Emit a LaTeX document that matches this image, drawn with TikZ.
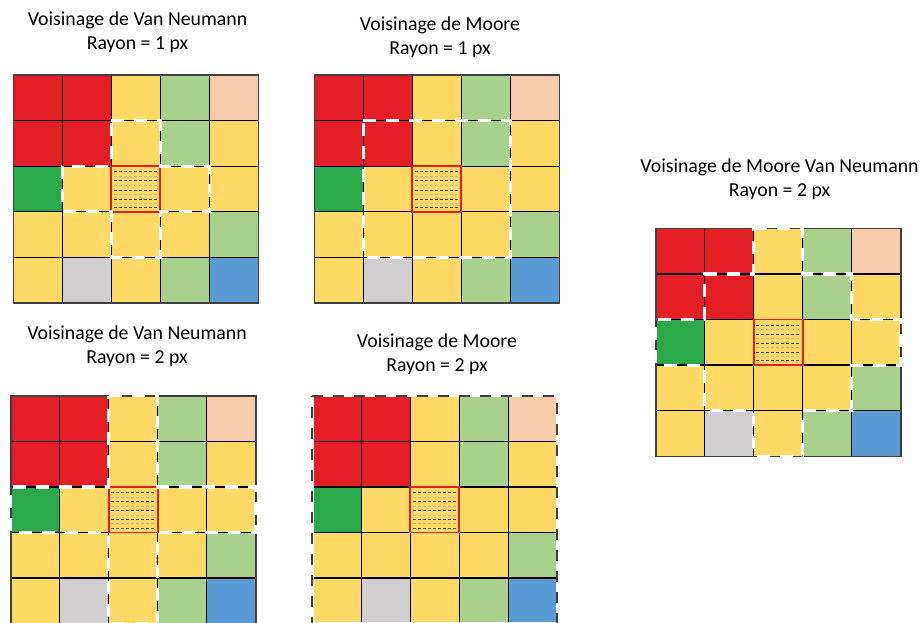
\documentclass[tikz,border=0pt]{standalone}
\usepackage{fontspec}
\setmainfont{Carlito}
\definecolor{cred}{HTML}{E31E24}
\definecolor{cyel}{HTML}{FFD966}
\definecolor{clg}{HTML}{A9D18E}
\definecolor{cpeach}{HTML}{F8CBAD}
\definecolor{cgreen}{HTML}{2BA84A}
\definecolor{cgray}{HTML}{D0CECE}
\definecolor{cblue}{HTML}{5B9BD5}
\definecolor{cborder}{HTML}{404040}
\tikzset{
  gridat/.style 2 args={shift={(#1,#2)},x=49pt,y=-45.6pt},
  gridl/.style={black,line width=1.3pt},
  outerl/.style={cborder,line width=1.6pt},
  hatchdark/.style={black!70,line width=0.7pt,dash pattern=on 3pt off 2pt},
  hatchlight/.style={black!30,line width=0.7pt,dash pattern=on 3pt off 2pt},
  wdash/.style={white,line width=3.2pt,dash pattern=on 13pt off 10pt},
  title/.style={align=center,font=\fontsize{19.8}{24}\selectfont,inner sep=0pt},
}
\newcommand\cellgrid[2]{%
\begin{scope}[gridat={#1}{#2}]
 \foreach \c [count=\k from 0] in {cred,cred,cyel,clg,cpeach,cred,cred,cyel,clg,cyel,cgreen,cyel,cyel,cyel,cyel,cyel,cyel,cyel,cyel,clg,cyel,cgray,cyel,clg,cblue}{
   \pgfmathtruncatemacro\cc{mod(\k,5)}
   \pgfmathtruncatemacro\rr{(\k-\cc)/5}
   \fill[\c] (\cc,\rr) rectangle ++(1,1);
 }
 \foreach \i in {1,...,4}{\draw[gridl] (\i,0) -- (\i,5); \draw[gridl] (0,\i) -- (5,\i);}
 \draw[outerl] (0,0) rectangle (5,5);
 \foreach \j in {0.12,0.32,0.52,0.72,0.9}{\draw[hatchdark] (2.05,2+\j) -- (2.95,2+\j);}
 \foreach \j in {0.22,0.42,0.62,0.81}{\draw[hatchlight] (2.05,2+\j) -- (2.95,2+\j);}
 \draw[cred,line width=1.9pt] (2,2) rectangle (3,3);
\end{scope}}
\begin{document}
\begin{tikzpicture}[x=1pt,y=-1pt]
\useasboundingbox (0,0) rectangle (923,622);
\fill[white] (0,0) rectangle (923,622);

% titles
\node[title] (t1) at (137.5,32) {Voisinage de Van Neumann\\Rayon = 1 px};
\node[title] (t2) at (440,37) {Voisinage de Moore\\Rayon = 1 px};
\node[title] (t3) at (137,346.5) {Voisinage de Van Neumann\\Rayon = 2 px};
\node[title] (t4) at (437,354.5) {Voisinage de Moore\\Rayon = 2 px};
\node[title] (t5) at (779.5,179.5) {Voisinage de Moore Van Neumann\\Rayon = 2 px};

% grid 1 : Van Neumann r=1
\cellgrid{13.3}{75}
\begin{scope}[gridat={13.3}{75}]
\draw[wdash] (2,1) -- (3,1) -- (3,2) -- (4,2) -- (4,3) -- (3,3) -- (3,4) -- (2,4) -- (2,3) -- (1,3) -- (1,2) -- (2,2) -- cycle;
\end{scope}

% grid 2 : Moore r=1
\cellgrid{314.3}{75}
\begin{scope}[gridat={314.3}{75}]
\draw[wdash] (1,1) -- (4,1) -- (4,4) -- (1,4) -- cycle;
\end{scope}

% grid 3 : Van Neumann r=2
\cellgrid{10.7}{395.7}
\begin{scope}[gridat={10.7}{395.7}]
\draw[wdash] (2,0) -- (3,0) -- (3,2) -- (5,2) -- (5,3) -- (3,3) -- (3,5) -- (2,5) -- (2,3) -- (0,3) -- (0,2) -- (2,2) -- cycle;
\end{scope}

% grid 4 : Moore r=2
\cellgrid{312.3}{395.7}
\begin{scope}[gridat={312.3}{395.7}]
\draw[white,line width=3.2pt] (0,0) rectangle (5,5);
\draw[cborder,line width=2pt,dash pattern=on 11pt off 10pt] (0,0) -- (5,0) -- (5,5) -- (0,5) -- cycle;
\end{scope}

% grid 5 : Moore Van Neumann r=2
\cellgrid{655.7}{228.3}
\begin{scope}[gridat={655.7}{228.3}]
\draw[wdash] (2,0) -- (3,0) -- (3,1) -- (4,1) -- (4,2) -- (5,2) -- (5,3) -- (4,3) -- (4,4) -- (3,4) -- (3,5) -- (2,5) -- (2,4) -- (1,4) -- (1,3) -- (0,3) -- (0,2) -- (1,2) -- (1,1) -- (2,1) -- cycle;
\end{scope}
\end{tikzpicture}
\end{document}
